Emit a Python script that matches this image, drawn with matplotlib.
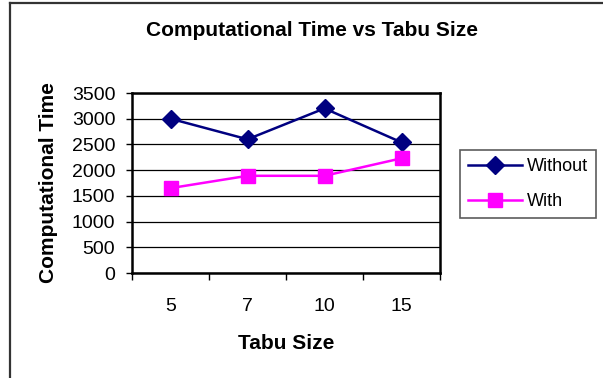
import matplotlib
matplotlib.use("Agg")
import matplotlib.pyplot as plt
from matplotlib.lines import Line2D

plt.rcParams['font.family'] = ['Liberation Sans', 'DejaVu Sans']

tabu_sizes = ["5", "7", "10", "15"]
time_without = [3000, 2600, 3200, 2540]
time_with = [1650, 1890, 1890, 2230]
y_ticks = [0, 500, 1000, 1500, 2000, 2500, 3000, 3500]

W, H = 603, 378
fig = plt.figure(figsize=(W / 100, H / 100), dpi=100)

# outer chart frame: only the left and top edges fall inside the image
fx, fy = 9.5 / W, 1 - 2.5 / H
fig.add_artist(Line2D([fx, fx], [0, fy], transform=fig.transFigure,
                      color='#333333', linewidth=1.6))
fig.add_artist(Line2D([fx, 1.0], [fy, fy], transform=fig.transFigure,
                      color='#333333', linewidth=1.6))

ax = fig.add_axes([132 / W, (H - 273) / H, 308 / W, 180 / H])

xs = [i + 0.5 for i in range(len(tabu_sizes))]
ax.plot(xs, time_without, color='#000080', marker='D', markersize=9.5, linewidth=1.8,
        label='Without', clip_on=False, zorder=3)
ax.plot(xs, time_with, color='#FF00FF', marker='s', markersize=10, linewidth=1.8,
        label='With', clip_on=False, zorder=3)

ax.set_xlim(0, len(tabu_sizes))
ax.set_ylim(0, 3500)
ax.set_yticks(y_ticks)
ax.set_yticklabels([str(v) for v in y_ticks], fontsize=14)
ax.set_xticks(range(len(tabu_sizes) + 1))
ax.set_xticklabels([])
ax.set_xticks(xs, minor=True)
ax.set_xticklabels(tabu_sizes, minor=True, fontsize=14)
ax.tick_params(axis='x', which='minor', length=0, pad=18)
ax.tick_params(axis='x', which='major', length=5, width=1, direction='out')
ax.tick_params(axis='y', length=4, width=1, direction='out', pad=8)

ax.grid(axis='y', color='black', linewidth=0.9)
ax.set_axisbelow(True)
for s in ax.spines.values():
    s.set_linewidth(1.8)
    s.set_color('black')

ax.set_title('Computational Time vs Tabu Size', fontsize=15, fontweight='bold', pad=0,
             x=(312 - 132) / 308, y=(273 - 30) / 180, va='center')
ax.set_xlabel('Tabu Size', fontsize=15, fontweight='bold', labelpad=14)
ax.set_ylabel('Computational Time', fontsize=15, fontweight='bold', labelpad=10)

leg = fig.legend(loc='upper left', bbox_to_anchor=(460 / W, 1 - 150 / H), fontsize=13,
                 frameon=True, fancybox=False, handlelength=3.0, borderaxespad=0,
                 handletextpad=0.25, labelspacing=1.0, borderpad=0.45)
leg.get_frame().set_edgecolor('#333333')
leg.get_frame().set_linewidth(1.2)

fig.savefig('out.png', dpi=100)
